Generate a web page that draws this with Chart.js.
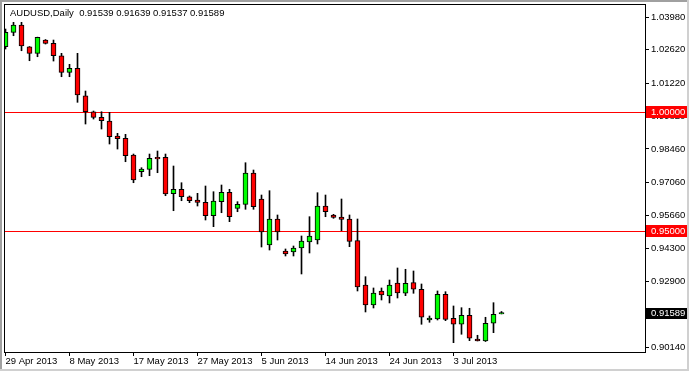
<!DOCTYPE html>
<html>
<head>
<meta charset="utf-8">
<script src="https://cdn.jsdelivr.net/npm/chart.js@4.4.0/dist/chart.umd.min.js"></script>
<style>
  html, body { margin: 0; padding: 0; background: #fff; }
</style>
</head>
<body>
<canvas id="chart" width="689" height="371"></canvas>
<script>
// AUDUSD daily candles, 29 Apr 2013 .. 10 Jul 2013 (Sunday bars included)
var symbolName = "AUDUSD,Daily";
var opens = [
  1.02747, 1.03351, 1.03657, 1.02747, 1.02470, 1.03028, 1.02890, 1.02370, 1.01673, 1.01841,
  1.00692, 1.00021, 0.99786, 0.99631, 0.99001, 0.98905, 0.98204, 0.97504, 0.97604, 0.98108,
  0.98108, 0.96581, 0.96766, 0.96455, 0.96317, 0.96220, 0.95658, 0.96246, 0.96640, 0.95969,
  0.96136, 0.97449, 0.96359, 0.94429, 0.95520, 0.94178, 0.94136, 0.94303, 0.94555, 0.94639,
  0.96065, 0.95688, 0.95604, 0.95520, 0.94610, 0.92752, 0.91913, 0.92500, 0.92290, 0.92835,
  0.92403, 0.92848, 0.92571, 0.91283, 0.91325, 0.92361, 0.91355, 0.91103, 0.91480, 0.90486,
  0.90402, 0.91145, 0.91539
];
var highs = [
  1.03490, 1.03771, 1.03771, 1.02756, 1.03150, 1.03049, 1.03028, 1.02470, 1.02009, 1.02470,
  1.00889, 1.00050, 1.00021, 0.99996, 0.99115, 0.99073, 0.98246, 0.97672, 0.98246, 0.98372,
  0.98246, 0.97743, 0.97042, 0.96485, 0.96598, 0.96904, 0.96665, 0.96946, 0.96766, 0.96246,
  0.97881, 0.97575, 0.96526, 0.96707, 0.95688, 0.94262, 0.94387, 0.94807, 0.95617, 0.96623,
  0.96526, 0.95717, 0.96359, 0.95688, 0.95520, 0.93100, 0.92626, 0.92626, 0.92961, 0.93465,
  0.93410, 0.93339, 0.92793, 0.91451, 0.92500, 0.92470, 0.91871, 0.91799, 0.91774, 0.90642,
  0.91397, 0.92009, 0.91639
];
var lows = [
  1.02651, 1.03209, 1.02579, 1.02160, 1.02328, 1.02861, 1.02147, 1.01489, 1.01489, 1.00415,
  0.99505, 0.99714, 0.99295, 0.98666, 0.98456, 0.97923, 0.97042, 0.97294, 0.97336, 0.97462,
  0.96497, 0.95868, 0.96287, 0.96204, 0.96065, 0.95478, 0.95197, 0.95784, 0.95407, 0.95826,
  0.95927, 0.95927, 0.94345, 0.94219, 0.94639, 0.93968, 0.93968, 0.93213, 0.94094, 0.94471,
  0.95616, 0.95549, 0.95029, 0.94358, 0.92500, 0.91619, 0.91787, 0.92122, 0.91997, 0.92206,
  0.92303, 0.92403, 0.91103, 0.91187, 0.91283, 0.91254, 0.90331, 0.90684, 0.90415, 0.90402,
  0.90380, 0.90751, 0.91537
];
var closes = [
  1.03351, 1.03657, 1.02777, 1.02470, 1.03141, 1.02890, 1.02370, 1.01673, 1.01841, 1.00721,
  1.00021, 0.99786, 0.99643, 0.98972, 0.98888, 0.98175, 0.97156, 0.97617, 0.98066, 0.98037,
  0.96568, 0.96766, 0.96455, 0.96287, 0.96220, 0.95658, 0.96275, 0.96640, 0.95616, 0.96136,
  0.97449, 0.96036, 0.94975, 0.95520, 0.94975, 0.94052, 0.94303, 0.94597, 0.94807, 0.96065,
  0.95826, 0.95591, 0.95507, 0.94584, 0.92668, 0.91913, 0.92416, 0.92332, 0.92752, 0.92416,
  0.92823, 0.92571, 0.91397, 0.91367, 0.92361, 0.91312, 0.91103, 0.91480, 0.90516, 0.90402,
  0.91145, 0.91522, 0.91589
];

// date labels on the time axis (bar index -> label)
var dateTickIdx = [0, 8, 16, 24, 32, 40, 48, 56];
var dateTickLabels = ["29 Apr 2013", "8 May 2013", "17 May 2013", "27 May 2013",
  "5 Jun 2013", "14 Jun 2013", "24 Jun 2013", "3 Jul 2013"];

// price axis ticks
var priceTicks = [1.0398, 1.0262, 1.0122, 0.9982, 0.9846, 0.9706, 0.9566, 0.9430, 0.9290, 0.9150, 0.9014];
var hiddenPriceLabel = 9; // 0.91500 sits under the last price box

// horizontal levels
var levels = [1.0, 0.95];

var yMin = 0.8994, yMax = 1.0454;
var xMin = -0.1875, xMax = 79.9375;

var wickData = [];
var bodyData = [];
var bodyColors = [];
for (var i = 0; i < opens.length; i++) {
  wickData.push({ x: i, y: [lows[i], highs[i]] });
  bodyData.push({ x: i, y: [opens[i], closes[i]] });
  bodyColors.push(closes[i] >= opens[i] ? "#00ff00" : "#ff0000");
}

var FONT = "Liberation Sans";
Chart.defaults.font.family = FONT;
Chart.defaults.font.size = 9.5;
Chart.defaults.color = "#000";

var mtPlugin = {
  id: "mt",
  beforeDraw: function (chart) {
    var ctx = chart.ctx;
    ctx.save();
    ctx.fillStyle = "#fff";
    ctx.fillRect(0, 0, chart.width, chart.height);
    // window frame
    ctx.fillStyle = "#a0a0a0";
    ctx.fillRect(0, 0, chart.width, 2);
    ctx.fillRect(0, 0, 2, chart.height);
    ctx.fillStyle = "#d0d0d0";
    ctx.fillRect(chart.width - 2, 0, 2, chart.height);
    ctx.fillRect(0, chart.height - 2, chart.width, 2);
    ctx.restore();
  },
  beforeDatasetsDraw: function (chart) {
    var ctx = chart.ctx;
    var a = chart.chartArea;
    var ys = chart.scales.y;
    ctx.save();
    ctx.fillStyle = "#ff0000";
    levels.forEach(function (lv) {
      var py = Math.round(ys.getPixelForValue(lv));
      ctx.fillRect(a.left, py, a.right - a.left, 1);
    });
    ctx.restore();
  },
  afterDraw: function (chart) {
    var ctx = chart.ctx;
    var a = chart.chartArea;
    var ys = chart.scales.y;
    ctx.save();
    // plot border
    ctx.strokeStyle = "#000";
    ctx.lineWidth = 1;
    ctx.strokeRect(a.left + 0.5, a.top + 0.5, a.right - a.left, a.bottom - a.top);

    ctx.font = "9.5px '" + FONT + "'";
    ctx.textBaseline = "middle";
    ctx.textAlign = "left";
    // level price boxes
    levels.forEach(function (lv) {
      var py = Math.round(ys.getPixelForValue(lv));
      ctx.fillStyle = "#ff0000";
      ctx.fillRect(a.right + 1, py - 6, 41, 12);
      ctx.fillStyle = "#fff";
      ctx.fillText(lv.toFixed(5), a.right + 6, py + 0.5);
    });
    // last price box
    var last = closes[closes.length - 1];
    var lp = Math.round(ys.getPixelForValue(last));
    ctx.fillStyle = "#000";
    ctx.fillRect(a.right + 1, lp - 5, 41, 11);
    ctx.fillStyle = "#fff";
    ctx.fillText(last.toFixed(5), a.right + 6, lp + 0.5);

    // title
    var n = opens.length - 1;
    var title = symbolName + "  " + opens[n].toFixed(5) + " " + highs[n].toFixed(5) + " " +
      lows[n].toFixed(5) + " " + closes[n].toFixed(5);
    ctx.fillStyle = "#000";
    ctx.fillText(title, a.left + 6, a.top + 9);
    ctx.restore();
  }
};

new Chart(document.getElementById("chart"), {
  type: "bar",
  data: {
    datasets: [
      {
        label: "body",
        data: bodyData,
        backgroundColor: bodyColors,
        borderColor: "#000",
        borderWidth: 1,
        borderSkipped: false,
        barThickness: 5,
        grouped: false,
        order: 0
      },
      {
        label: "wick",
        data: wickData,
        backgroundColor: "#000",
        borderWidth: 0,
        barThickness: 1,
        grouped: false,
        order: 1
      }
    ]
  },
  options: {
    responsive: false,
    animation: false,
    devicePixelRatio: 1,
    layout: { padding: { left: 4, top: 4, right: 0, bottom: 0 } },
    plugins: { legend: { display: false }, tooltip: { enabled: false } },
    scales: {
      x: {
        type: "linear",
        offset: false,
        min: xMin,
        max: xMax,
        grid: { drawOnChartArea: false, tickLength: 4, color: "#000", offset: false },
        border: { color: "#000" },
        afterBuildTicks: function (s) {
          s.ticks = dateTickIdx.map(function (v) { return { value: v }; });
        },
        ticks: {
          autoSkip: false,
          maxRotation: 0,
          align: "start",
          padding: 0,
          callback: function (v, idx) { return dateTickLabels[idx]; }
        },
        afterFit: function (s) {
          s.height = 19;
          s.paddingLeft = 0;
          s.paddingRight = 0;
        }
      },
      y: {
        position: "right",
        min: yMin,
        max: yMax,
        grid: { drawOnChartArea: false, tickLength: 4, color: "#000" },
        border: { color: "#000" },
        afterBuildTicks: function (s) {
          s.ticks = priceTicks.map(function (v) { return { value: v }; });
        },
        ticks: {
          autoSkip: false,
          padding: 2,
          callback: function (v, idx) { return idx === hiddenPriceLabel ? "" : v.toFixed(5); }
        },
        afterFit: function (s) {
          s.width = 44;
          s.paddingTop = 0;
          s.paddingBottom = 0;
        }
      }
    }
  },
  plugins: [mtPlugin]
});
</script>
</body>
</html>
